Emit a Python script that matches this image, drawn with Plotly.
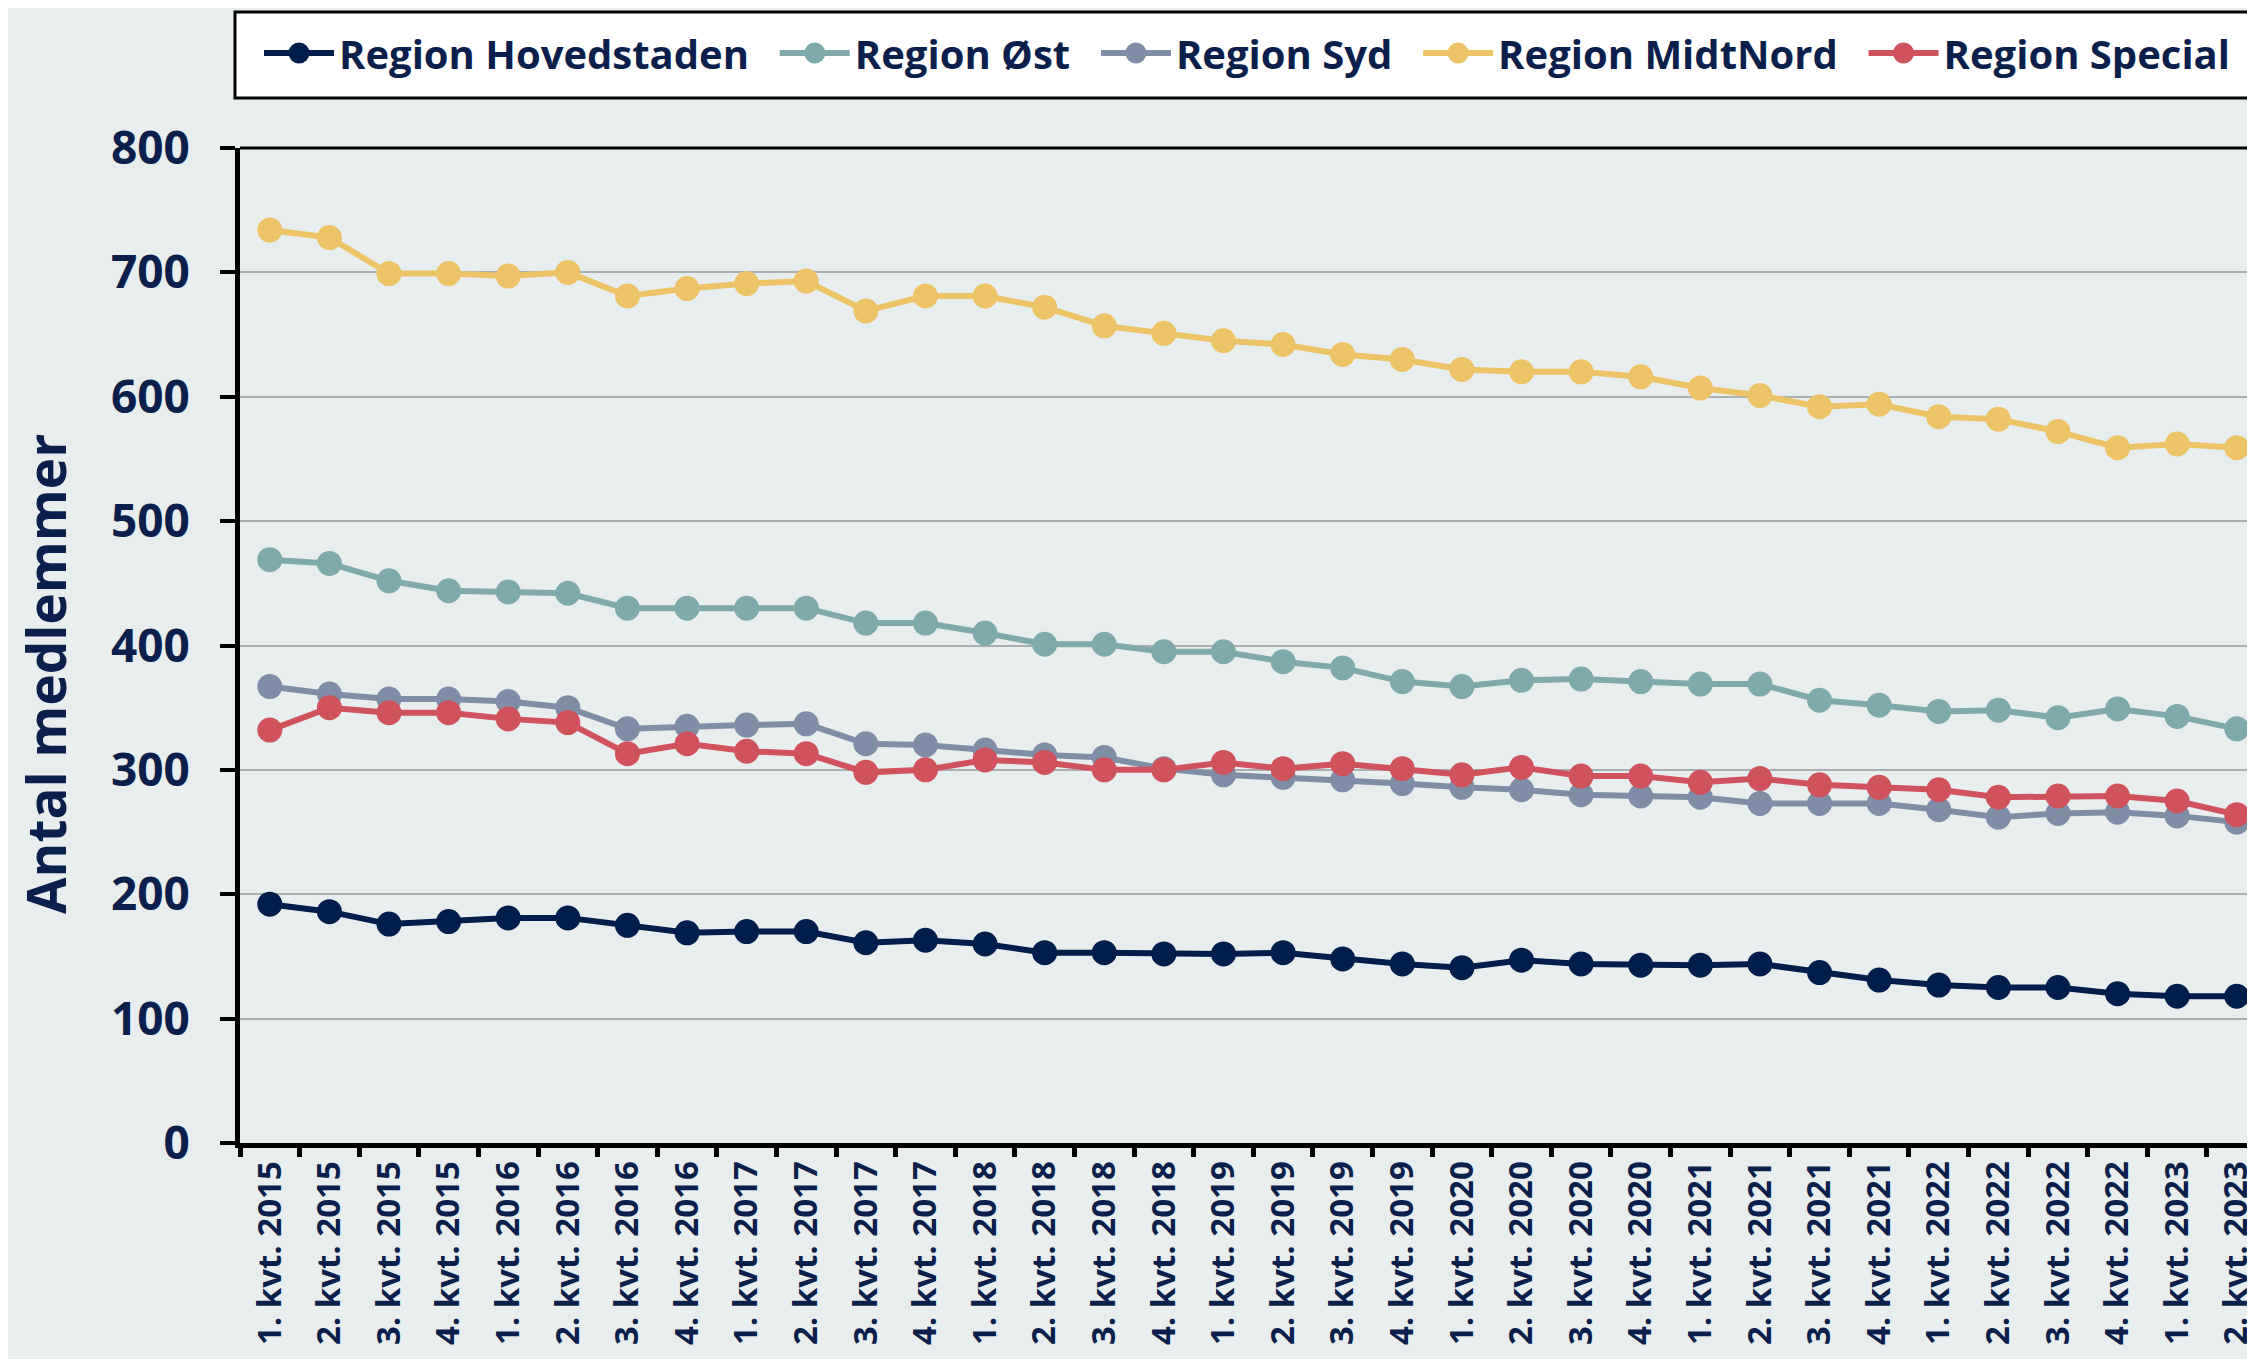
import plotly.graph_objects as go

quarters = [f"{q}. kvt. {y}" for y in range(2015, 2024) for q in range(1, 5)][:34]

hovedstaden = [192, 186, 176, 178, 181, 181, 175, 169, 170, 170, 161, 163, 160, 153, 153, 152, 152,
               153, 148, 144, 141, 147, 144, 143, 143, 144, 137, 131, 127, 125, 125, 120, 118, 118]
oest = [469, 466, 452, 444, 443, 442, 430, 430, 430, 430, 418, 418, 410, 401, 401, 395, 395,
        387, 382, 371, 367, 372, 373, 371, 369, 369, 356, 352, 347, 348, 342, 349, 343, 333]
syd = [367, 361, 357, 357, 355, 350, 333, 335, 336, 337, 321, 320, 316, 312, 310, 301, 296,
       294, 292, 289, 286, 284, 280, 279, 278, 273, 273, 273, 268, 262, 265, 266, 263, 258]
midtnord = [734, 728, 699, 699, 697, 700, 681, 687, 691, 693, 669, 681, 681, 672, 657, 651, 645,
            642, 634, 630, 622, 620, 620, 616, 607, 601, 592, 594, 584, 582, 572, 559, 562, 559]
special = [332, 350, 346, 346, 341, 338, 313, 321, 315, 313, 298, 300, 308, 306, 300, 300, 306,
           301, 305, 301, 296, 302, 295, 295, 290, 293, 288, 286, 284, 278, 279, 279, 275, 264]

series_names = ["Region Hovedstaden", "Region Øst", "Region Syd", "Region MidtNord", "Region Special"]
series_values = [hovedstaden, oest, syd, midtnord, special]
series_colors = ["#001d4b", "#80a9ab", "#7f8da6", "#ecc366", "#d0525d"]

y_ticks = [0, 100, 200, 300, 400, 500, 600, 700, 800]
y_title = "Antal medlemmer"

NAVY = "#0b1f4d"
BG = "#e8eeee"
FONT = "Open Sans"

fig = go.Figure()
for name, vals, col in zip(series_names, series_values, series_colors):
    fig.add_trace(go.Scatter(
        x=quarters, y=vals, name=name + "\u00a0\u00a0", mode="lines+markers",
        line=dict(color=col, width=6),
        marker=dict(color=col, size=20, symbol="circle", line=dict(color=col, width=5)),
    ))

W, H = 2255, 1359
ml, mr, mt, mb = 232, 0, 140, 224
pw = W - ml - mr
ph = H - mt - mb

fig.update_layout(
    width=W, height=H,
    margin=dict(l=ml, r=mr, t=mt, b=mb, pad=0, autoexpand=False),
    paper_bgcolor=BG, plot_bgcolor=BG,
    font=dict(family=FONT, color=NAVY, size=40, weight="bold"),
    showlegend=True,
    legend=dict(
        orientation="h",
        x=(251 - ml) / pw, xanchor="left",
        y=(H - mb - 45) / ph, yanchor="middle",
        bgcolor="rgba(0,0,0,0)", borderwidth=0,
        font=dict(family=FONT, size=40, color=NAVY, weight="bold"),
        itemwidth=70,
    ),
    xaxis=dict(
        type="category",
        range=[-0.5, 33.44],
        tickson="boundaries",
        ticks="outside", ticklen=9, tickwidth=5, tickcolor="black",
        showline=True, linecolor="black", linewidth=5,
        showgrid=False, zeroline=False,
        tickangle=-90,
        tickfont=dict(family=FONT, size=33, color=NAVY, weight="bold"),
    ),
    yaxis=dict(
        range=[0, 800],
        tickvals=y_ticks,
        ticks="outside", ticklen=15, tickwidth=4, tickcolor="black",
        showline=True, linecolor="black", linewidth=5,
        showgrid=True, gridcolor="#abaeb1", gridwidth=2,
        zeroline=False,
        ticklabelstandoff=21,
        tickfont=dict(family=FONT, size=46, color=NAVY, weight="bold"),
    ),
    annotations=[dict(
        text=y_title, textangle=-90,
        xref="paper", yref="paper",
        x=(37 - ml) / pw, y=(H - mb - 666) / ph,
        xanchor="center", yanchor="middle", showarrow=False,
        font=dict(family=FONT, size=53, color=NAVY, weight="bold"),
    )],
    shapes=[
        dict(
            type="rect", xref="paper", yref="paper", layer="above",
            x0=(227 - ml) / pw, x1=1.05,
            y0=(H - mb - 90) / ph, y1=(H - mb - 4) / ph,
            fillcolor="white", line=dict(color="black", width=3),
        ),
        dict(
            type="line", xref="paper", yref="paper",
            x0=0, x1=1, y0=1, y1=1,
            line=dict(color="black", width=3),
        ),
    ],
)

fig.write_html("out.html")
